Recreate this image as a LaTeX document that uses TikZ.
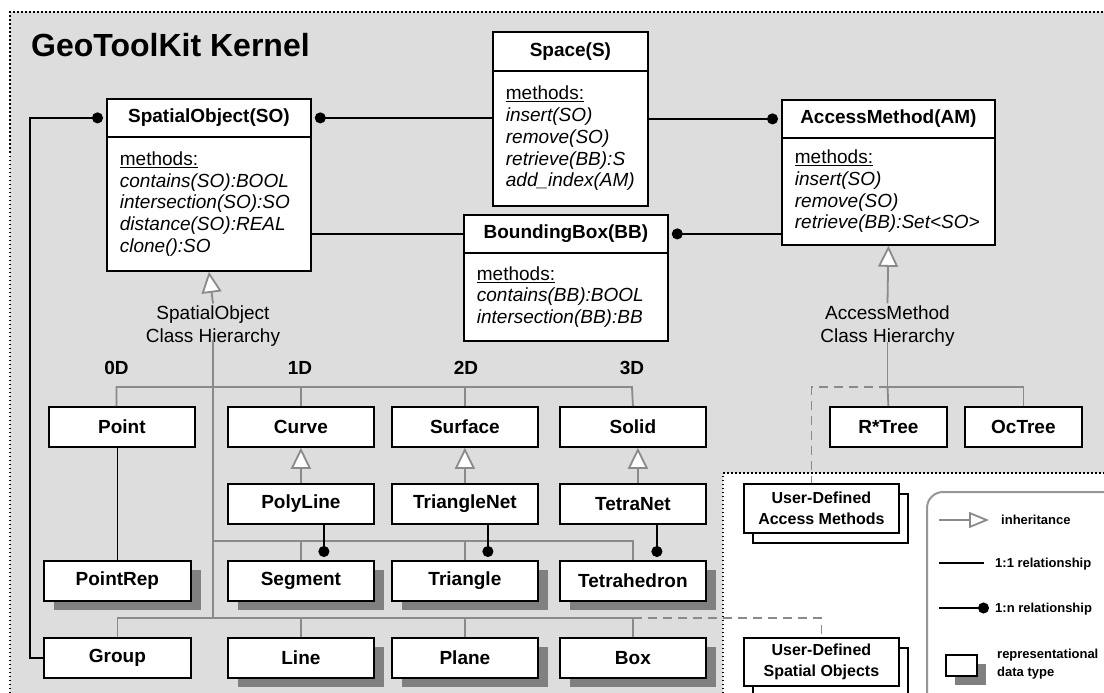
\documentclass[tikz,border=0pt]{standalone}
\usepackage{fontspec}
\setmainfont{Liberation Sans}
\usetikzlibrary{arrows.meta,shadows,calc}
\definecolor{bggray}{RGB}{221,221,221}
\definecolor{lngray}{RGB}{138,138,138}
\definecolor{shgray}{RGB}{128,128,128}
\definecolor{lgdgray}{RGB}{150,150,150}
\begin{document}
\begin{tikzpicture}[x=1pt,y=-1pt,
  hdr/.style={draw=black,line width=1.8pt,fill=white,inner sep=0pt,anchor=north west,minimum height=38pt,font=\fontsize{19}{22}\selectfont\bfseries},
  bodybox/.style={draw=black,line width=1.8pt,fill=white,inner xsep=13pt,inner ysep=0pt,anchor=north west,align=left,font=\fontsize{19}{21.7}\selectfont},
  rbox/.style={draw=black,line width=1.8pt,fill=white,inner sep=0pt,anchor=north west,minimum width=146pt,minimum height=40pt,font=\fontsize{19}{22}\selectfont\bfseries},
  rep/.style={rbox,general shadow={fill=shgray,shadow xshift=10pt,shadow yshift=-9pt}},
  udbox/.style={draw=black,line width=1.8pt,fill=white,inner sep=0pt,anchor=north west,minimum width=155pt,align=center,font=\fontsize{16}{21}\selectfont\bfseries,general shadow={draw=black,fill=white,line width=1.8pt,shadow xshift=9pt,shadow yshift=-10pt}},
  dimlbl/.style={font=\fontsize{19}{22}\selectfont\bfseries},
  hierlbl/.style={font=\fontsize{19}{23}\selectfont,align=center,inner sep=2pt},
  gl/.style={draw=lngray,line width=1.8pt},
  gdash/.style={gl,dash pattern=on 9pt off 6pt},
  inh/.style={gl,-{Triangle[length=21pt,width=20pt,fill=white]}},
  onel/.style={draw=black,line width=1.8pt},
  manyl/.style={onel,-{Circle[length=11pt]},shorten >=3pt},
  lgdtxt/.style={font=\fontsize{13}{18}\selectfont\bfseries,anchor=west,align=left,inner sep=0pt},
  brd/.style={draw=black,line width=1.5pt,dash pattern=on 1.5pt off 2.5pt},
]
\useasboundingbox (0,0) rectangle (1104,693);
% background
\fill[bggray] (10,12) -- (1104,12) -- (1104,473) -- (723,473) -- (723,693) -- (10,693) -- cycle;
\draw[brd] (10,693) -- (10,12) -- (1104,12);
\draw[brd] (723,693) -- (723,473) -- (1104,473);

\node[anchor=west,inner sep=0pt,font=\fontsize{32}{38}\selectfont\bfseries] (title) at (31,45) {GeoToolKit Kernel};

% main classes
\node[hdr,minimum width=204pt] (SOh) at (106,98) {SpatialObject(SO)};
\node[bodybox,text width=178pt,minimum height=134pt] (SOb) at (106,136) {\underline{methods:}\\\textit{contains(SO):BOOL}\\\textit{intersection(SO):SO}\\\textit{distance(SO):REAL}\\\textit{clone():SO}};

\node[hdr,minimum width=155pt,minimum height=39pt] (Sph) at (492,31) {Space(S)};
\node[bodybox,text width=129pt,minimum height=135pt] (Spb) at (492,70) {\underline{methods:}\\\textit{insert(SO)}\\\textit{remove(SO)}\\\textit{retrieve(BB):S}\\\textit{add\_index(AM)}};

\node[hdr,minimum width=213pt] (AMh) at (781,99) {AccessMethod(AM)};
\node[bodybox,text width=187pt,minimum height=107pt] (AMb) at (781,137) {\underline{methods:}\\\textit{insert(SO)}\\\textit{remove(SO)}\\\textit{retrieve(BB):Set<SO>}};

\node[hdr,minimum width=204pt] (BBh) at (463,214) {BoundingBox(BB)};
\node[bodybox,text width=178pt,minimum height=88pt] (BBb) at (463,252) {\underline{methods:}\\\textit{contains(BB):BOOL}\\\textit{intersection(BB):BB}};

% hierarchy labels
\node[hierlbl] (soh) at (213,326) {SpatialObject\\Class Hierarchy};
\node[hierlbl] (amh) at (887.5,326) {AccessMethod\\Class Hierarchy};
\node[dimlbl] (d0) at (116.5,368) {0D};
\node[dimlbl] (d1) at (300,368) {1D};
\node[dimlbl] (d2) at (466,368) {2D};
\node[dimlbl] (d3) at (632,368) {3D};

% row boxes
\node[rbox] (Point) at (48,406) {Point};
\node[rbox] (Curve) at (227,406) {Curve};
\node[rbox] (Surface) at (391,406) {Surface};
\node[rbox] (Solid) at (559,406) {Solid};
\node[rbox] (PolyLine) at (227,483) {PolyLine};
\node[rbox] (TriangleNet) at (391,483) {TriangleNet};
\node[rbox] (TetraNet) at (559,483) {TetraNet};
\node[rep,minimum width=147pt] (PointRep) at (43,560) {PointRep};
\node[rep] (Segment) at (227,560) {Segment};
\node[rep] (Triangle) at (391,560) {Triangle};
\node[rep] (Tetrahedron) at (559,560) {Tetrahedron};
\node[rbox,minimum width=147pt] (Group) at (43,637) {Group};
\node[rep] (Line) at (227,637) {Line};
\node[rep] (Plane) at (391,637) {Plane};
\node[rep] (Box) at (559,637) {Box};
\node[rbox,minimum width=117pt] (RTree) at (829,406) {R*Tree};
\node[rbox,minimum width=117pt] (OcTree) at (964,406) {OcTree};

\node[udbox,minimum height=49pt] (UDAM) at (743,483) {User-Defined\\Access Methods};
\node[udbox,minimum height=48pt] (UDSO) at (743,637) {User-Defined\\Spatial Objects};

% relationships
\draw[manyl] (Group.west) -- ++(-13,0) |- (SOh.west);
\draw[manyl] (Spb.west |- SOh.east) -- (SOh.east);
\draw[manyl] (Spb.east |- AMh.west) -- (AMh.west);
\draw[onel] (SOb.east |- BBh.west) -- (BBh.west);
\draw[manyl] (AMb.west |- BBh.east) -- (BBh.east);

% spatial object hierarchy
\draw[inh] (soh.north) -- (SOb.south);
\coordinate (soT) at (213,340);
\coordinate (soB) at (213,618);
\draw[gl] (soT) -- (soB);
\coordinate (b1w) at (116.5,387);
\coordinate (b1e) at (632,387);
\draw[gl] (Point.north -| b1w) -- (b1w) -- (b1e) -- (Solid.north);
\draw[gl] (Curve.north) -- (Curve.north |- b1w);
\draw[gl] (Surface.north) -- (Surface.north |- b1w);
\coordinate (b2w) at (213,541);
\draw[gl] (b2w) -| (Tetrahedron.north);
\draw[gl] (Segment.north) -- (Segment.north |- b2w);
\draw[gl] (Triangle.north) -- (Triangle.north |- b2w);
\coordinate (b3) at (0,618);
\draw[gl] (Group.north) |- (b3 -| Box.north) -- (Box.north);
\draw[gl] (Line.north) -- (Line.north |- b3);
\draw[gl] (Plane.north) -- (Plane.north |- b3);
\draw[gdash] (b3 -| Box.north) -| (UDSO.north);

\draw[inh] (PolyLine.north) -- (Curve.south);
\draw[inh] (TriangleNet.north) -- (Surface.south);
\draw[inh] ([xshift=5pt]TetraNet.north) -- ([xshift=5pt]Solid.south);
\draw[onel] (PointRep.north) -- (PointRep.north |- Point.south);
\draw[manyl] ([xshift=23pt]PolyLine.south) -- ([xshift=23pt]Segment.north);
\draw[manyl] ([xshift=23pt]TriangleNet.south) -- ([xshift=23pt]Triangle.north);
\draw[manyl] ([xshift=24pt]TetraNet.south) -- ([xshift=24pt]Tetrahedron.north);

% access method hierarchy
\draw[inh] (amh.north) -- (AMb.south);
\coordinate (amT) at (887.5,342);
\coordinate (b4) at (0,387);
\draw[gl] (amT) -- (amT |- b4) -| (OcTree.north);
\draw[gl] (amT |- b4) -- (RTree.north);
\draw[gdash] (amT |- b4) -| ([xshift=-10pt]UDAM.north);

% legend
\node[draw=lgdgray,line width=2pt,rounded corners=16pt,anchor=north west,minimum width=200pt,minimum height=215pt] (legend) at (926,491) {};
\coordinate (la1) at (939,520);
\coordinate (la2) at (989,520);
\draw[gl,-{Triangle[length=20pt,width=16pt,fill=white]}] (la1) -- (la2);
\node[lgdtxt] (lt1) at (1001,520) {inheritance};
\coordinate (lb1) at (939,563);
\coordinate (lb2) at (984,563);
\draw[onel] (lb1) -- (lb2);
\node[lgdtxt] (lt2) at (995,564) {1:1 relationship};
\coordinate (lc1) at (939,608);
\coordinate (lc2) at (989,608);
\draw[onel,-{Circle[length=11pt]}] (lc1) -- (lc2);
\node[lgdtxt] (lt3) at (995,609) {1:n relationship};
\node[draw=black,line width=1.8pt,fill=white,anchor=north west,minimum width=31pt,minimum height=21pt,inner sep=0pt,general shadow={fill=shgray,shadow xshift=9pt,shadow yshift=-9pt}] (lic) at (945,654) {};
\node[lgdtxt] (lt4) at (997,664) {representational\\data type};
\end{tikzpicture}
\end{document}
